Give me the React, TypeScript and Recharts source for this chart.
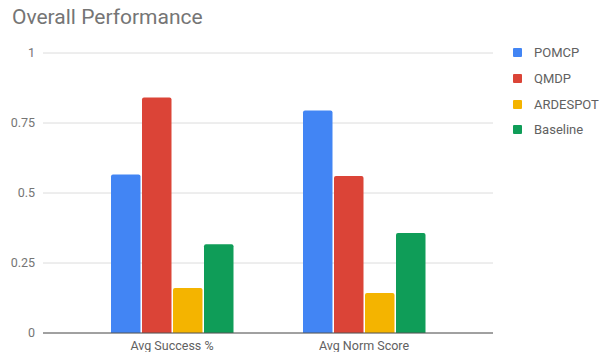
import { BarChart, Bar, XAxis, YAxis, CartesianGrid } from "recharts";

const metrics = ["Avg Success %", "Avg Norm Score"];
const pomcp = [0.566, 0.795];
const qmdp = [0.841, 0.561];
const ardespot = [0.161, 0.143];
const baseline = [0.317, 0.357];
const yTicks = [0, 0.25, 0.5, 0.75, 1];

const series = [
  { key: "POMCP", values: pomcp, color: "#4285F4" },
  { key: "QMDP", values: qmdp, color: "#DB4437" },
  { key: "ARDESPOT", values: ardespot, color: "#F4B400" },
  { key: "Baseline", values: baseline, color: "#0F9D58" },
];

const data = metrics.map((name, i) => {
  const row: Record<string, string | number> = { name };
  series.forEach((s) => {
    row[s.key] = s.values[i];
  });
  return row;
});

const font = "Roboto, 'Noto Sans', Arial, sans-serif";

// legend kept outside the chart so it does not eat into the plot area
const ChartLegend = () => (
  <div
    style={{ position: "absolute", left: 513, top: 40, fontFamily: font }}
  >
    {series.map((s) => (
      <div
        key={s.key}
        style={{ display: "flex", alignItems: "center", height: 25.7 }}
      >
        <div
          style={{
            width: 9,
            height: 9,
            background: s.color,
            borderRadius: 1,
            marginRight: 12,
          }}
        />
        <span style={{ fontSize: 13, color: "#616161" }}>{s.key}</span>
      </div>
    ))}
  </div>
);

export default function App() {
  return (
    <div
      style={{
        position: "absolute",
        left: 0,
        top: 0,
        width: 599,
        height: 352,
        background: "#fff",
        overflow: "hidden",
      }}
    >
      <div
        style={{
          position: "absolute",
          left: 12,
          top: 5,
          fontFamily: font,
          fontSize: 21,
          color: "#757575",
        }}
      >
        Overall Performance
      </div>
      <BarChart
        width={599}
        height={352}
        data={data}
        margin={{ top: 53, right: 106, left: 0, bottom: 0 }}
        barSize={29.5}
        barGap={1.5}
      >
        <CartesianGrid vertical={false} stroke="#dcdcdc" />
        <XAxis
          dataKey="name"
          height={19}
          padding={{ left: 33, right: 33 }}
          tickLine={false}
          axisLine={{ stroke: "#555" }}
          tick={{ fill: "#616161", fontSize: 12.5, fontFamily: font }}
        />
        <YAxis
          width={43}
          domain={[0, 1]}
          ticks={yTicks}
          axisLine={false}
          tickLine={false}
          tick={{ fill: "#757575", fontSize: 12.5, fontFamily: font }}
        />
        {series.map((s) => (
          <Bar
            key={s.key}
            dataKey={s.key}
            fill={s.color}
            radius={[2, 2, 0, 0]}
            isAnimationActive={false}
          />
        ))}
      </BarChart>
      <ChartLegend />
    </div>
  );
}
